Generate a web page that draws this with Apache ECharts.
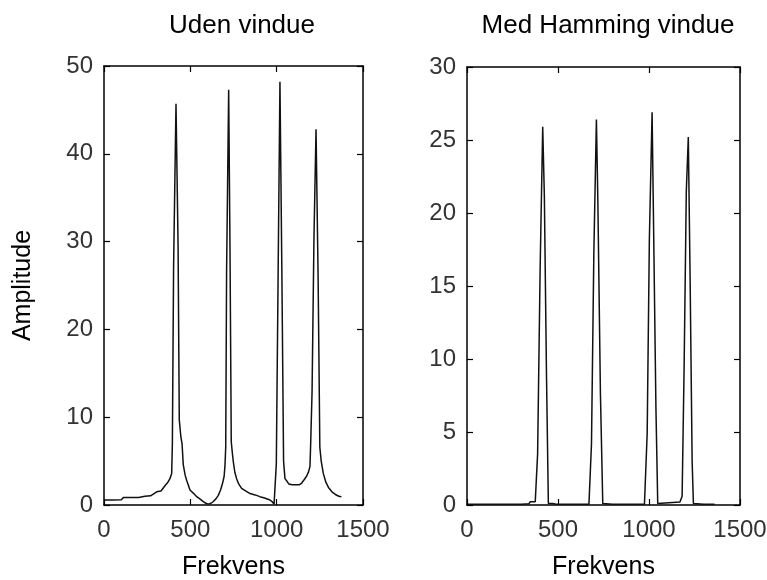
<!DOCTYPE html>
<html>
<head>
<meta charset="utf-8">
<script src="https://cdn.jsdelivr.net/npm/echarts@6/dist/echarts.min.js"></script>
<style>
html,body{margin:0;padding:0;background:#fff;}
#chart{width:767px;height:580px;}
</style>
</head>
<body>
<div id="chart"></div>
<script>
// ---- data ----
var titles = ["Uden vindue", "Med Hamming vindue"];
var xLabel = "Frekvens";
var yLabel = "Amplitude";
var xTicks = [0, 500, 1000, 1500];
var leftYTicks = [0, 10, 20, 30, 40, 50];
var rightYTicks = [0, 5, 10, 15, 20, 25, 30];

var leftFreq = [0,50,100,112,150,200,237,270,305,330,353,370,382,392,396,403,417,429,436,445,452,459,470,479,498,520,537,555,575,590,604,620,633,648,662,675,687,696,701,705,710,722,730,737,743,749,758,768,780,797,820,846,875,903,930,961,975,985,990,998,1008,1019,1030,1040,1048,1060,1070,1090,1110,1130,1145,1160,1174,1185,1193,1197,1205,1216,1228,1240,1250,1258,1270,1285,1300,1320,1340,1360,1375];
var leftAmp  = [0.57,0.57,0.6,0.84,0.84,0.86,1.0,1.05,1.5,1.6,2.2,2.6,3.0,3.6,7.0,27.1,45.7,29.6,9.7,7.8,7.0,4.6,3.4,2.8,1.7,1.3,0.95,0.7,0.38,0.2,0.1,0.2,0.4,0.7,1.1,1.7,2.5,3.3,4.6,6.6,26.6,47.3,28.5,7.2,6.0,4.9,3.7,3.0,2.4,1.9,1.6,1.3,1.15,0.95,0.8,0.57,0.35,0.1,0.05,4.7,25.4,48.2,26.8,5.0,3.0,2.7,2.4,2.3,2.3,2.3,2.5,2.9,3.3,3.8,4.4,7.0,12.9,30.4,42.8,26.0,6.6,5.0,3.6,2.6,2.0,1.5,1.2,1.0,0.95];

var rightFreq = [0,100,200,300,340,347,375,380,388,402,416,425,437,447,455,470,480,490,600,670,684,697,711,719,733,746,800,900,975,990,1002,1017,1024,1038,1048,1055,1170,1182,1193,1205,1216,1226,1237,1244,1300,1360];
var rightAmp  = [0.05,0.05,0.05,0.05,0.08,0.22,0.22,0.1,3.5,16.3,25.9,21.2,8.7,0.1,0.08,0.1,0.15,0.05,0.05,0.05,4.2,17.3,26.4,20.8,7.7,0.1,0.05,0.05,0.05,4.9,18.2,26.9,20.2,6.7,0.1,0.2,0.2,0.6,9.5,21.5,25.2,15.4,3.0,0.1,0.05,0.05];

function zip(a, b) { return a.map(function (v, i) { return [v, b[i]]; }); }

var FONT = "'Liberation Sans', Arial, sans-serif";
var chart = echarts.init(document.getElementById('chart'), null, {renderer: 'canvas'});

var grids = [
  {left: 104, top: 66, width: 259, height: 439, containLabel: false, outerBoundsMode: 'none'},
  {left: 467, top: 67, width: 273, height: 438, containLabel: false, outerBoundsMode: 'none'}
];
var yTicksAll = [leftYTicks, rightYTicks];
function plain(v) { return String(v); }

var xAxes = [], yAxes = [];
[0, 1].forEach(function (g) {
  var yt = yTicksAll[g];
  var base = {
    gridIndex: g, type: 'value', min: xTicks[0], max: xTicks[xTicks.length - 1],
    interval: xTicks[1] - xTicks[0],
    axisLine: {show: true, onZero: false, lineStyle: {color: '#000', width: 1.5}},
    axisTick: {show: true, inside: true, length: 6, lineStyle: {color: '#000', width: 1.2}},
    splitLine: {show: false}
  };
  xAxes.push(Object.assign({}, base, {
    position: 'bottom',
    axisLabel: {show: true, margin: 13, fontSize: 24, fontFamily: FONT, color: '#333', formatter: plain},
    name: xLabel, nameLocation: 'middle', nameGap: 50,
    nameTextStyle: {fontSize: 25, fontFamily: FONT, color: '#000'}
  }));
  xAxes.push(Object.assign({}, base, {position: 'top', axisLabel: {show: false}}));
  var ybase = {
    gridIndex: g, type: 'value', min: yt[0], max: yt[yt.length - 1],
    interval: yt[1] - yt[0],
    axisLine: {show: true, onZero: false, lineStyle: {color: '#000', width: 1.5}},
    axisTick: {show: true, inside: true, length: 6, lineStyle: {color: '#000', width: 1.2}},
    splitLine: {show: false}
  };
  var yl = Object.assign({}, ybase, {
    position: 'left',
    axisLabel: {show: true, margin: 11, fontSize: 24, fontFamily: FONT, color: '#333', formatter: plain}
  });
  if (g === 0) {
    yl.name = yLabel; yl.nameLocation = 'middle'; yl.nameGap = 68; yl.nameRotate = 90;
    yl.nameTextStyle = {fontSize: 25, fontFamily: FONT, color: '#000'};
  }
  yAxes.push(yl);
  yAxes.push(Object.assign({}, ybase, {position: 'right', axisLabel: {show: false}}));
});

var option = {
  animation: false,
  backgroundColor: '#fff',
  title: [
    {text: titles[0], left: 237, top: 8, textAlign: 'center',
     textStyle: {fontSize: 26, fontWeight: 'normal', fontFamily: FONT, color: '#000'}},
    {text: titles[1], left: 603, top: 8, textAlign: 'center',
     textStyle: {fontSize: 26, fontWeight: 'normal', fontFamily: FONT, color: '#000'}}
  ],
  grid: grids,
  xAxis: xAxes,
  yAxis: yAxes,
  series: [
    {type: 'line', xAxisIndex: 0, yAxisIndex: 0, data: zip(leftFreq, leftAmp),
     showSymbol: false, symbol: 'none', lineStyle: {color: '#111', width: 1.5}},
    {type: 'line', xAxisIndex: 2, yAxisIndex: 2, data: zip(rightFreq, rightAmp),
     showSymbol: false, symbol: 'none', lineStyle: {color: '#111', width: 1.5}}
  ]
};
chart.setOption(option);
</script>
</body>
</html>
